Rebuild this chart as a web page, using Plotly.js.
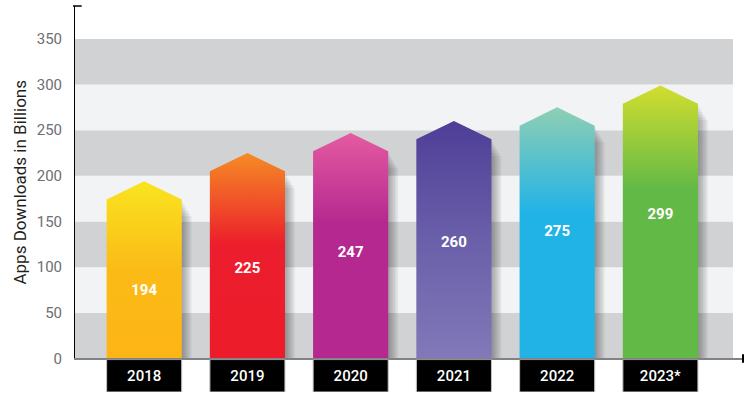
<!DOCTYPE html>
<html>
<head>
<meta charset="utf-8">
<script src="https://cdn.plot.ly/plotly-3.0.1.min.js"></script>
<style>html,body{margin:0;padding:0;background:#fff;}#chart{width:750px;height:399px;}</style>
</head>
<body>
<div id="chart"></div>
<script>
// ---- data ----
const categories = ['2018', '2019', '2020', '2021', '2022', '2023*'];
const downloads = [194, 225, 247, 260, 275, 299];
const yTicks = [0, 50, 100, 150, 200, 250, 300, 350];
const topColors = ['#f9e41f', '#f58c25', '#e45ba1', '#4e3e97', '#8fcfb3', '#d2de2f'];
const midColors = ['#fbbb17', '#ec1d2c', '#b5288f', '#6a5fa9', '#22b3e6', '#63b946'];
const bottomColors = ['#fdb515', '#ec1c2b', '#b5288f', '#8179b9', '#21b3e6', '#63b946'];
const midStops = [0.5, 0.55, 0.6, 0.5, 0.58, 0.62];

// ---- style constants ----
const half = 0.364;      // half bar width (x units)
const shoulder = 20;     // arrow head height (y units)

const traces = [];

// soft shadows
downloads.forEach((v, i) => {
  for (let k = 1; k <= 6; k++) {
    const dx = 0.016 * k;
    const dy = 3 * k;
    traces.push({
      type: 'scatter', mode: 'lines', hoverinfo: 'skip', showlegend: false,
      x: [i, i + half + dx, i + half + dx, i],
      y: [0, 0, v - shoulder - dy, v - shoulder - dy],
      fill: 'toself', fillcolor: 'rgba(0,0,0,0.055)', line: {width: 0}
    });
  }
});

// arrow bars
downloads.forEach((v, i) => {
  traces.push({
    type: 'scatter', mode: 'lines', hoverinfo: 'skip', showlegend: false,
    x: [i - half, i - half, i, i + half, i + half, i - half],
    y: [0, v - shoulder, v, v - shoulder, 0, 0],
    fill: 'toself',
    fillcolor: midColors[i],
    fillgradient: {
      type: 'vertical',
      colorscale: [[0, bottomColors[i]], [midStops[i], midColors[i]], [1, topColors[i]]]
    },
    line: {width: 0}
  });
});

// value labels
traces.push({
  type: 'scatter', mode: 'text', hoverinfo: 'skip', showlegend: false,
  x: downloads.map((v, i) => i),
  y: downloads.map(v => 0.80 * v - 82),
  text: downloads.map(String),
  textposition: 'middle center',
  textfont: {family: 'Roboto, Arial, sans-serif', size: 15, color: '#ffffff', weight: 700}
});

// category boxes
traces.push({
  type: 'bar', xaxis: 'x', yaxis: 'y2', hoverinfo: 'skip', showlegend: false,
  x: categories.map((c, i) => i),
  y: categories.map(() => 1),
  width: 0.727,
  marker: {color: '#000000', line: {color: '#c4c4c4', width: 1}},
  text: categories,
  textposition: 'inside',
  insidetextanchor: 'middle',
  textangle: 0,
  constraintext: 'none',
  textfont: {family: 'Roboto, Arial, sans-serif', size: 15, color: '#ffffff', weight: 500}
});

// background bands
const shapes = [];
for (let b = 0; b < yTicks.length - 1; b++) {
  shapes.push({
    type: 'rect', layer: 'below', xref: 'paper', yref: 'y',
    x0: 0, x1: 0.985, y0: yTicks[b], y1: yTicks[b + 1],
    fillcolor: b % 2 === 0 ? '#d1d2d4' : '#f2f3f5', line: {width: 0}
  });
}
const yDom0 = 0.0868;
// axis end caps
shapes.push({type: 'line', xref: 'paper', yref: 'paper', x0: -0.003, x1: 0.010, y0: 1, y1: 1,
  line: {color: '#000', width: 1.5}});
shapes.push({type: 'line', xref: 'paper', yref: 'paper', x0: 1, x1: 1, y0: yDom0 - 0.011, y1: yDom0 + 0.011,
  line: {color: '#000', width: 2}});

const layout = {
  width: 750, height: 399,
  margin: {l: 75, r: 7, t: 6, b: 7},
  paper_bgcolor: '#ffffff', plot_bgcolor: 'rgba(0,0,0,0)',
  showlegend: false,
  xaxis: {
    range: [-0.67, 5.8], showgrid: false, zeroline: false,
    showticklabels: false, ticks: '', showline: true,
    linecolor: '#808285', linewidth: 1.5, anchor: 'y', fixedrange: true
  },
  yaxis: {
    domain: [yDom0, 1], range: [0, 386],
    tickvals: yTicks, ticktext: yTicks.map(String),
    showgrid: false, zeroline: false, ticks: '',
    ticklabelstandoff: 9,
    tickfont: {family: 'Roboto, Arial, sans-serif', size: 15, color: '#6d6e71'},
    showline: true, linecolor: '#000000', linewidth: 1,
    title: {text: 'Apps Downloads in Billions', standoff: 5,
      font: {family: 'Roboto, Arial, sans-serif', size: 17, color: '#231f20'}},
    fixedrange: true
  },
  yaxis2: {
    domain: [0, 0.084], range: [0, 1], visible: false, fixedrange: true
  },
  bargap: 0,
  shapes: shapes
};

Plotly.newPlot('chart', traces, layout, {displayModeBar: false, staticPlot: true});
</script>
</body>
</html>
